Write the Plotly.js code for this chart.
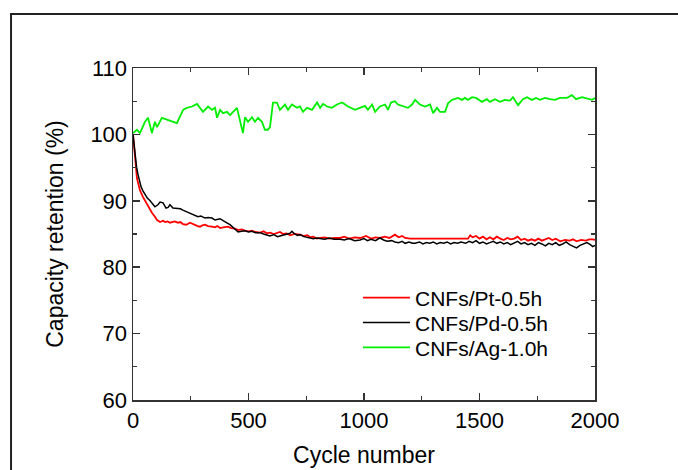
<!DOCTYPE html>
<html>
<head>
<meta charset="utf-8">
<script src="https://cdn.plot.ly/plotly-3.0.1.min.js"></script>
<style>html,body{margin:0;padding:0;background:#fff;}#chart{width:678px;height:470px;}</style>
</head>
<body>
<div id="chart"></div>
<script>
// Series names
var seriesNames = ["CNFs/Pt-0.5h", "CNFs/Pd-0.5h", "CNFs/Ag-1.0h"];

// CNFs/Pt-0.5h (red)
var ptCycles = [0,5,10,17,25,30,43,52,61,70,82,95,104,117,130,139,150,160,169,180,195,205,216,230,247,258,268,280,290,300,312,325,342,355,365,377,390,411,425,442,455,470,485,500,515,530,550,565,580,593,610,625,636,650,665,680,700,723,740,755,766,780,795,810,830,850,870,896,915,935,960,983,1009,1030,1050,1069,1090,1110,1134,1150,1165,1178,1195,1200,1450,1460,1470,1485,1500,1515,1530,1545,1560,1575,1590,1605,1620,1635,1650,1665,1680,1695,1710,1725,1740,1755,1770,1785,1800,1815,1830,1850,1870,1890,1905,1920,1940,1960,1975,1990,2000];
var ptValues = [100,97.5,96.2,93.4,92.2,91.6,90.6,90.0,89.4,88.9,88.2,87.6,87.1,86.8,87.0,86.8,86.9,86.7,86.8,86.9,86.7,86.8,86.5,86.4,86.7,86.5,86.4,86.2,86.1,86.3,86.4,86.2,86.1,86.0,86.2,85.9,86.0,86.1,85.9,85.8,85.6,85.7,85.5,85.4,85.5,85.3,85.2,85.4,85.1,85.2,85.0,85.2,85.3,85.0,85.1,84.8,85.0,84.9,84.7,84.8,84.5,84.6,84.3,84.4,84.5,84.3,84.4,84.4,84.6,84.3,84.5,84.4,84.7,84.3,84.5,84.4,84.6,84.4,84.9,84.5,84.7,84.4,84.3,84.3,84.3,84.8,84.5,84.7,84.3,84.6,84.2,84.5,84.2,84.6,84.3,84.1,84.4,84.2,84.3,84.6,84.1,84.3,84.0,84.2,84.0,84.3,84.0,84.2,84.4,84.1,84.3,83.9,84.1,84.0,84.2,83.9,84.1,84.0,84.2,84.2,84.1];

// CNFs/Pd-0.5h (black)
var pdCycles = [0,5,9,15,22,28,35,43,52,62,74,84,95,108,117,130,143,152,160,173,185,195,205,216,230,247,258,268,281,294,303,312,325,342,355,365,377,390,398,410,420,430,442,455,470,485,500,515,530,550,565,580,593,610,625,636,650,665,680,688,700,712,723,740,755,766,780,795,810,830,850,870,896,915,935,960,983,1000,1015,1030,1050,1069,1085,1100,1120,1134,1150,1165,1178,1195,1210,1221,1240,1255,1270,1285,1300,1315,1330,1345,1360,1375,1390,1405,1420,1440,1455,1470,1485,1500,1515,1530,1545,1560,1575,1590,1605,1620,1635,1650,1665,1680,1695,1710,1725,1740,1755,1770,1785,1800,1815,1830,1845,1860,1875,1890,1905,1920,1935,1950,1965,1980,1990,2000];
var pdValues = [100,98,96.9,95.2,93.9,93.0,92.1,91.5,90.9,90.4,90.0,89.6,89.1,89.4,89.8,89.7,88.9,89.0,89.4,88.9,88.9,88.9,88.8,88.6,88.4,88.2,88.0,87.9,87.6,87.7,87.5,87.4,87.5,87.4,87.1,87.2,87.3,87.0,86.8,86.6,86.4,86.1,85.8,85.3,85.4,85.5,85.3,85.4,85.2,85.2,85.0,84.8,84.7,84.9,84.6,84.7,84.8,84.9,85.1,85.4,85.0,84.8,84.9,84.6,84.5,84.5,84.3,84.4,84.3,84.2,84.4,84.2,84.2,84.1,84.3,84.0,84.1,84.3,84.0,84.2,84.0,84.4,84.1,83.9,84.0,83.8,83.7,83.9,83.6,83.8,83.6,83.6,83.8,83.5,83.7,83.6,83.8,83.5,83.7,83.6,83.8,83.5,83.7,83.6,83.8,83.6,83.9,83.7,84.0,83.6,83.8,83.5,83.7,83.9,83.6,83.8,83.5,83.7,83.4,83.6,83.9,83.5,83.7,83.4,83.6,83.3,83.7,83.5,83.2,83.6,83.4,83.7,83.3,83.5,83.8,83.4,83.1,82.9,83.3,83.5,83.7,83.4,83.1,83.3];

// CNFs/Ag-1.0h (green)
var agCycles = [0,17,30,52,65,82,95,104,125,173,190,217,233,255,277,290,303,325,342,355,364,377,390,407,420,450,463,476,485,498,515,528,541,558,571,584,593,606,623,636,658,671,688,710,723,736,753,775,797,810,823,840,861,883,905,931,961,983,1004,1017,1035,1048,1069,1091,1104,1117,1134,1147,1169,1190,1208,1221,1242,1264,1286,1299,1316,1329,1351,1364,1381,1407,1424,1437,1450,1468,1485,1511,1532,1545,1567,1589,1610,1632,1645,1667,1688,1706,1727,1745,1762,1784,1805,1827,1848,1879,1900,1918,1944,1970,1987,2000];
var agValues = [100.2,100.7,100.2,101.9,102.5,100.2,101.9,101.1,102.5,101.9,101.7,103.7,104.0,104.2,104.6,104.0,103.4,104.2,103.7,104.0,102.5,103.7,103.2,103.4,102.9,104.0,102.2,100.2,102.6,101.9,102.6,101.9,102.5,101.9,100.7,100.7,101.1,104.8,104.8,103.7,104.5,103.7,104.5,104.0,104.2,103.4,104.0,103.7,104.8,104.0,104.6,104.2,104.0,104.5,104.8,104.2,103.7,104.0,104.3,103.7,104.5,103.4,104.2,104.5,103.7,104.8,105.0,104.5,104.2,104.0,104.5,105.2,104.5,104.2,104.5,103.2,104.0,103.4,103.4,104.7,105.2,105.5,105.2,105.5,105.2,105.6,105.5,104.9,105.3,104.9,105.3,104.9,105.2,105.1,105.6,104.4,105.3,105.6,105.2,105.5,105.2,105.5,105.3,105.2,105.5,105.5,105.9,105.3,105.6,105.3,105.2,105.5];

// Axis titles and ticks
var xTitle = "Cycle number";
var yTitle = "Capacity retention (%)";
var xTickVals = [0, 500, 1000, 1500, 2000];
var yTickVals = [60, 70, 80, 90, 100, 110];

var traces = [
  {x: ptCycles, y: ptValues, name: seriesNames[0], type: "scatter", mode: "lines", line: {color: "#ff0000", width: 1.8}, legend: "legend"},
  {x: pdCycles, y: pdValues, name: seriesNames[1], type: "scatter", mode: "lines", line: {color: "#000000", width: 1.5}, legend: "legend2"},
  {x: agCycles, y: agValues, name: seriesNames[2], type: "scatter", mode: "lines", line: {color: "#00ee00", width: 1.8}, legend: "legend3"}
];

var axisCommon = {
  showline: true, linecolor: "#333333", linewidth: 1.5, mirror: "ticks",
  ticks: "inside", ticklen: 7, tickwidth: 1.5, tickcolor: "#333333",
  showgrid: false, zeroline: false,
  tickfont: {family: "Liberation Sans, Arial, sans-serif", size: 22, color: "#000"}
};

function legendAt(yPaper) {
  return {
    x: 0.487, y: yPaper, xanchor: "left", yanchor: "top",
    bgcolor: "rgba(0,0,0,0)", borderwidth: 0,
    font: {family: "Liberation Sans, Arial, sans-serif", size: 21, color: "#000"},
    itemwidth: 47
  };
}

var layout = {
  width: 678, height: 470,
  paper_bgcolor: "#ffffff", plot_bgcolor: "#ffffff",
  margin: {l: 133, r: 83, t: 68, b: 70, pad: 0},
  showlegend: true,
  legend: legendAt(0.369),
  legend2: legendAt(0.294),
  legend3: legendAt(0.219),
  xaxis: Object.assign({}, axisCommon, {
    range: [0, 2000], tickvals: xTickVals, ticktext: xTickVals.map(String),
    minor: {dtick: 250, tick0: 0, ticks: "inside", ticklen: 4, tickwidth: 1.2, tickcolor: "#333333"},
    title: {text: xTitle, font: {family: "Liberation Sans, Arial, sans-serif", size: 23, color: "#000"}, standoff: 15}
  }),
  yaxis: Object.assign({}, axisCommon, {
    range: [60, 110], tickvals: yTickVals, ticktext: yTickVals.map(String),
    minor: {dtick: 5, tick0: 60, ticks: "inside", ticklen: 4, tickwidth: 1.2, tickcolor: "#333333"},
    title: {text: yTitle, font: {family: "Liberation Sans, Arial, sans-serif", size: 23, color: "#000"}, standoff: 20}
  }),
  shapes: [
    {type: "rect", xref: "paper", yref: "paper", x0: -0.264, x1: 1.5, y0: -0.5, y1: 1.163,
     line: {color: "#222222", width: 2}, fillcolor: "rgba(0,0,0,0)", layer: "below"}
  ]
};

Plotly.newPlot("chart", traces, layout, {displayModeBar: false, staticPlot: true});
</script>
</body>
</html>
